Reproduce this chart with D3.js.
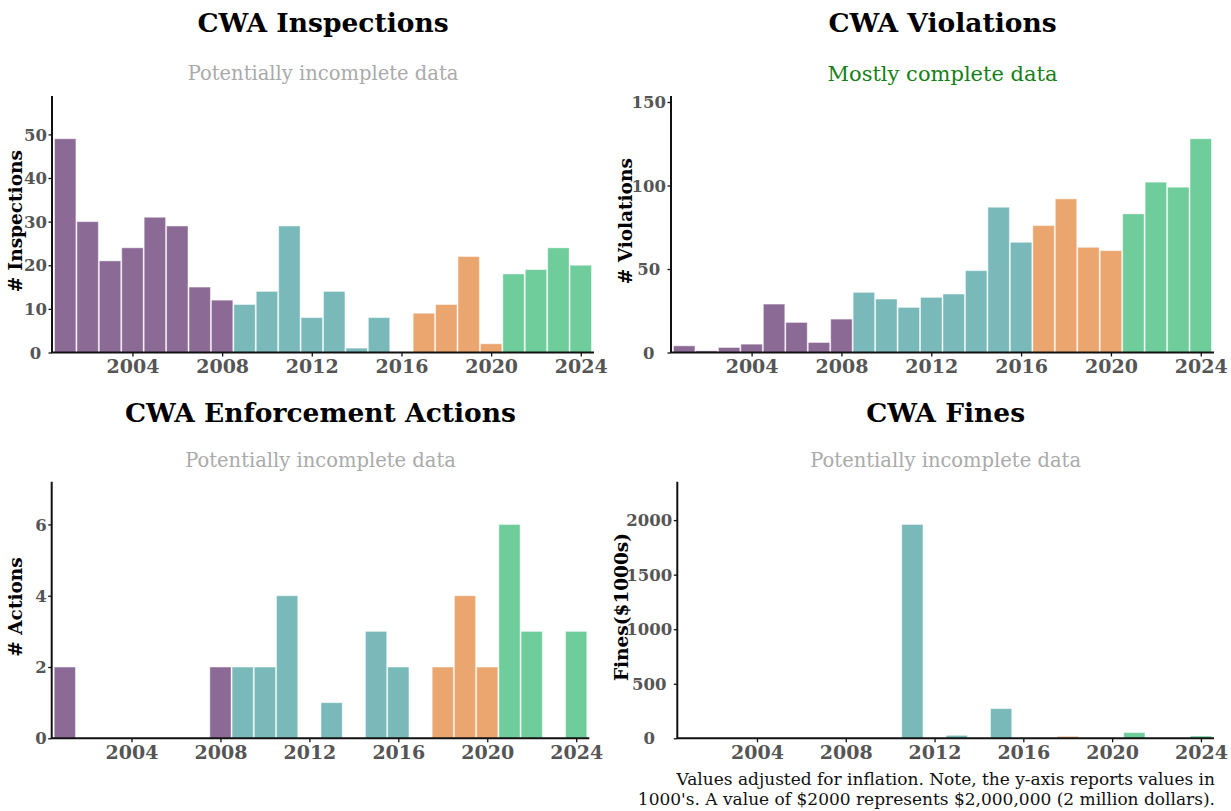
<!DOCTYPE html>
<meta charset="utf-8">
<style>
    body {
        margin: 0;
        background-color: #fff;
    }

    svg {
        font-family: "DejaVu Serif", serif;
    }

    .title {
        font-size: 26.5px;
        font-weight: bold;
        fill: #000;
    }

    .subtitle {
        font-size: 19.5px;
    }

    .yTitle {
        font-size: 18.5px;
        font-weight: bold;
        fill: #000;
    }

    .axis text {
        font-family: "DejaVu Serif", serif;
    }

    .x.axis text {
        font-size: 19px;
        font-weight: bold;
        fill: #555;
    }

    .y.axis text {
        font-size: 16.5px;
        font-weight: bold;
        fill: #555;
    }

    .axis line {
        stroke: #111;
        stroke-width: 1.3;
    }

    .note {
        font-size: 17px;
        fill: #111;
    }
</style>

<body>
    <script src="https://cdn.jsdelivr.net/npm/d3@7"></script>
    <script>
        // ---- data ----
        var years = [2001, 2002, 2003, 2004, 2005, 2006, 2007, 2008, 2009, 2010, 2011, 2012,
            2013, 2014, 2015, 2016, 2017, 2018, 2019, 2020, 2021, 2022, 2023, 2024];

        var inspections = [49, 30, 21, 24, 31, 29, 15, 12, 11, 14, 29, 8,
            14, 1, 8, 0, 9, 11, 22, 2, 18, 19, 24, 20];

        var violations = [4, 1, 3, 5, 29, 18, 6, 20, 36, 32, 27, 33,
            35, 49, 87, 66, 76, 92, 63, 61, 83, 102, 99, 128];

        var actions = [2, 0, 0, 0, 0, 0, 0, 2, 2, 2, 4, 0,
            1, 0, 3, 2, 0, 2, 4, 2, 6, 3, 0, 3];

        // thousands of dollars
        var fines = [0, 0, 0, 0, 0, 0, 0, 0, 0, 0, 1960, 0,
            27, 0, 272, 0, 0, 18, 3, 3, 52, 0, 0, 21];

        var xTicks = [2004, 2008, 2012, 2016, 2020, 2024];
        var inspTicks = [0, 10, 20, 30, 40, 50];
        var violTicks = [0, 50, 100, 150];
        var actTicks = [0, 2, 4, 6];
        var fineTicks = [0, 500, 1000, 1500, 2000];

        // last year of each administration and its colour
        var periodEnds = [2008, 2016, 2020, 2024];
        var periodColors = ["#8c6a96", "#79b9b9", "#eba66f", "#6fcd9b"];

        var noteLines = ["Values adjusted for inflation. Note, the y-axis reports values in",
            "1000's. A value of $2000 represents $2,000,000 (2 million dollars)."];

        function colorFor(year) {
            for (var i = 0; i < periodEnds.length; i++) {
                if (year <= periodEnds[i]) return periodColors[i];
            }
            return periodColors[periodColors.length - 1];
        }

        var width = 1231,
            height = 811;

        var svg = d3.select("body").append("svg")
            .attr("width", width)
            .attr("height", height);

        var panels = [{
                title: "CWA Inspections", subtitle: "Potentially incomplete data", subColor: "#aaaaaa", subSize: 19.5,
                ylabel: "# Inspections", values: inspections, ticks: inspTicks,
                left: 52, right: 594, top: 96, bottom: 352.5, labelX: 22,
                titleY: 32, subY: 80
            },
            {
                title: "CWA Violations", subtitle: "Mostly complete data", subColor: "#158015", subSize: 21,
                ylabel: "# Violations", values: violations, ticks: violTicks,
                left: 671, right: 1214, top: 96, bottom: 352.5, labelX: 632,
                titleY: 32, subY: 81
            },
            {
                title: "CWA Enforcement Actions", subtitle: "Potentially incomplete data", subColor: "#aaaaaa", subSize: 19.5,
                ylabel: "# Actions", values: actions, ticks: actTicks,
                left: 51.7, right: 589.3, top: 481.7, bottom: 738.3, labelX: 22,
                titleY: 422, subY: 467
            },
            {
                title: "CWA Fines", subtitle: "Potentially incomplete data", subColor: "#aaaaaa", subSize: 19.5,
                ylabel: "Fines($1000s)", values: fines, ticks: fineTicks,
                left: 677.3, right: 1214, top: 481.7, bottom: 738.3, labelX: 628,
                titleY: 422, subY: 467
            }
        ];

        panels.forEach(function(p) {
            var g = svg.append("g");

            var x = d3.scaleLinear()
                .domain([years[0] - 0.5, years[years.length - 1] + 0.5])
                .range([p.left + 2, p.right - 2]);

            var y = d3.scaleLinear()
                .domain([0, d3.max(p.values) * 1.2])
                .range([p.bottom, p.top]);

            var rows = years.map(function(yr, i) {
                return { year: yr, value: p.values[i] };
            }).filter(function(d) { return d.value > 0; });

            g.selectAll(".bar")
                .data(rows)
                .enter().append("rect")
                .attr("class", "bar")
                .attr("x", function(d) { return x(d.year - 0.5) + 0.5; })
                .attr("width", function(d) { return x(d.year + 0.5) - x(d.year - 0.5) - 1; })
                .attr("y", function(d) { return y(d.value); })
                .attr("height", function(d) { return Math.max(0.8, y(0) - y(d.value)); })
                .style("fill", function(d) { return colorFor(d.year); })
                .style("stroke", "#fff")
                .style("stroke-opacity", 0.45)
                .style("stroke-width", 1);

            // axes
            var xAxis = g.append("g")
                .attr("class", "x axis")
                .attr("transform", "translate(0," + p.bottom + ")")
                .call(d3.axisBottom(x).tickValues(xTicks).tickFormat(d3.format("d"))
                    .tickSize(4).tickSizeOuter(0).tickPadding(3.5));
            xAxis.select(".domain").remove();

            var yAxis = g.append("g")
                .attr("class", "y axis")
                .attr("transform", "translate(" + p.left + ",0)")
                .call(d3.axisLeft(y).tickValues(p.ticks).tickFormat(d3.format("d"))
                    .tickSize(3.5).tickSizeOuter(0));
            yAxis.select(".domain").remove();

            // tick labels are centred in their column
            var maxW = 0;
            yAxis.selectAll("text").each(function() {
                maxW = Math.max(maxW, this.getComputedTextLength());
            });
            yAxis.selectAll("text")
                .attr("text-anchor", "middle")
                .attr("x", -(5 + maxW / 2))
                .attr("dy", "0.34em");

            g.append("line")
                .attr("x1", p.left).attr("x2", p.left)
                .attr("y1", p.top).attr("y2", p.bottom + 0.6)
                .style("stroke", "#111").style("stroke-width", 2);

            g.append("line")
                .attr("x1", p.left).attr("x2", p.right)
                .attr("y1", p.bottom).attr("y2", p.bottom)
                .style("stroke", "#111").style("stroke-width", 2);

            // titles
            var cx = (p.left + p.right) / 2;
            g.append("text")
                .attr("class", "title")
                .attr("x", cx)
                .attr("y", p.titleY)
                .attr("text-anchor", "middle")
                .text(p.title);

            g.append("text")
                .attr("class", "subtitle")
                .attr("x", cx)
                .attr("y", p.subY)
                .attr("text-anchor", "middle")
                .style("fill", p.subColor)
                .style("font-size", p.subSize + "px")
                .text(p.subtitle);

            var cy = (p.top + p.bottom) / 2 - 3;
            g.append("text")
                .attr("class", "yTitle")
                .attr("transform", "translate(" + p.labelX + "," + cy + ") rotate(-90)")
                .attr("text-anchor", "middle")
                .text(p.ylabel);
        });

        svg.append("text")
            .attr("class", "note")
            .attr("text-anchor", "end")
            .selectAll("tspan")
            .data(noteLines)
            .enter().append("tspan")
            .attr("x", 1215)
            .attr("y", function(d, i) { return 785 + i * 19.5; })
            .text(function(d) { return d; });
    </script>
</body>

</html>
